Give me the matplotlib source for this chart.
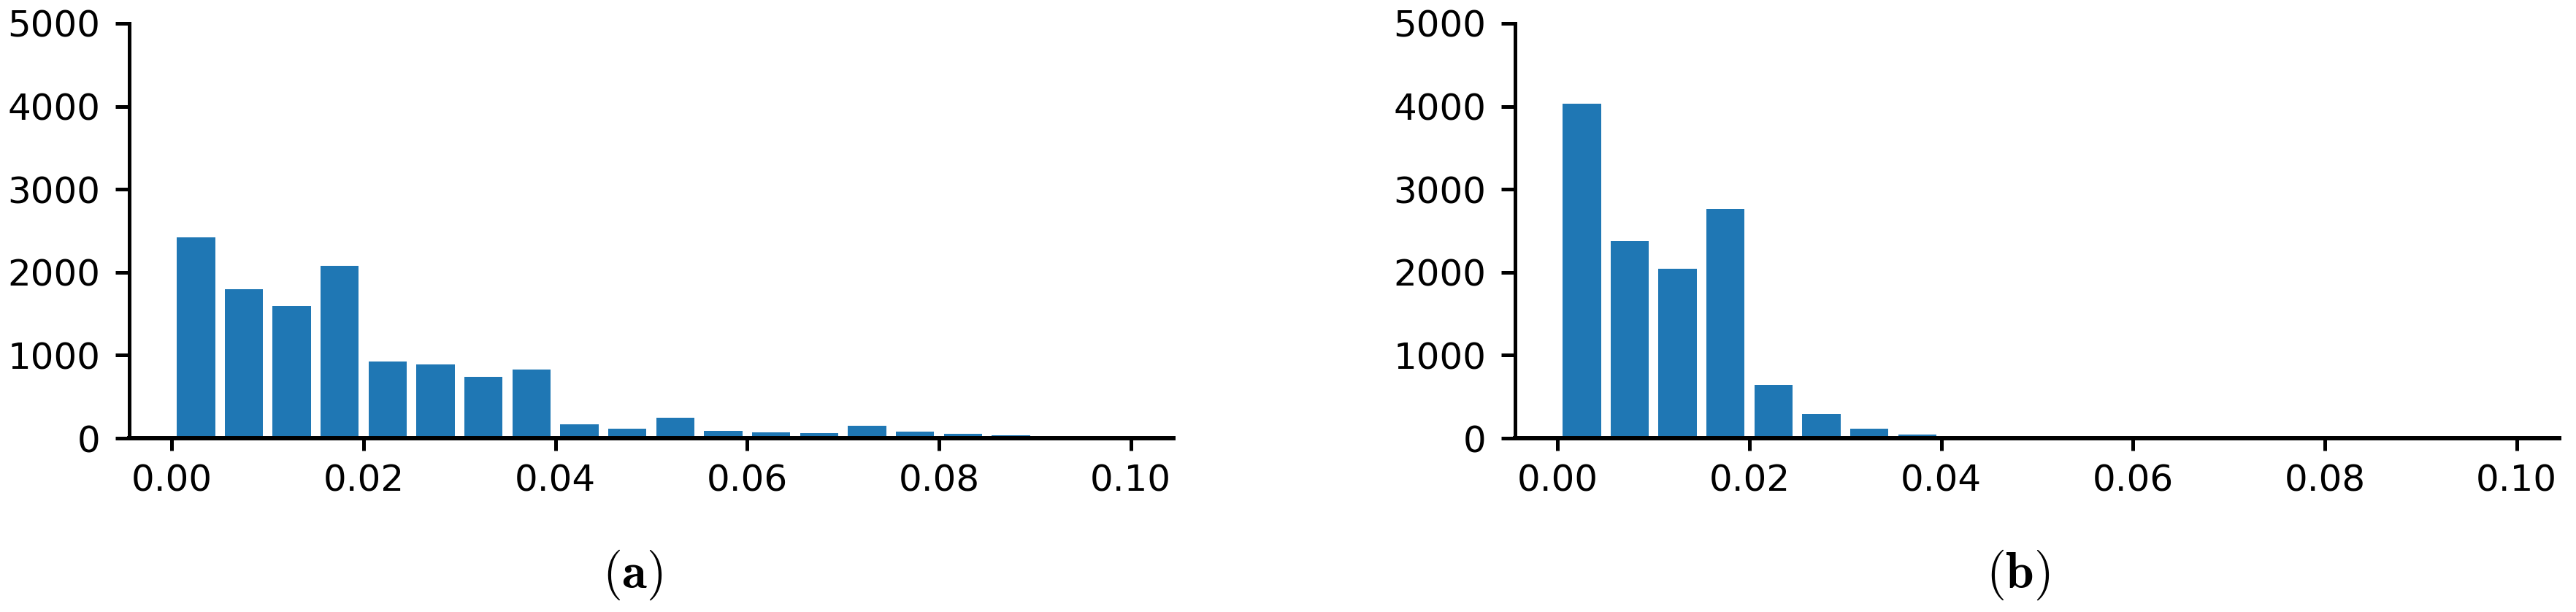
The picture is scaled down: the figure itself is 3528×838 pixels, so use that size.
import numpy as np
import matplotlib
matplotlib.use("Agg")
import matplotlib.pyplot as plt

plt.rcParams["mathtext.fontset"] = "cm"

# histogram bins: 20 bins over [0, 0.1]
bin_edges = np.linspace(0.0, 0.1, 21)

# counts
counts_a = [2424, 1797, 1594, 2079, 923, 888, 738, 826, 164, 111,
            243, 85, 67, 58, 147, 76, 49, 32, 0, 0]
counts_b = [4030, 2379, 2043, 2767, 641, 288, 111, 48, 0, 0,
            0, 0, 0, 0, 0, 0, 0, 0, 0, 0]

x_ticks = [0.00, 0.02, 0.04, 0.06, 0.08, 0.10]
y_ticks = [0, 1000, 2000, 3000, 4000, 5000]
captions = [r"$(\mathbf{a})$", r"$(\mathbf{b})$"]

W, H = 3528, 838
fig = plt.figure(figsize=(W / 100, H / 100), dpi=100)

axes_px = [(177, 1607), (2075, 3505)]
top_px, bottom_px = 32, 600
caption_x_px = [866, 2764]

centers = (bin_edges[:-1] + bin_edges[1:]) / 2

for (x0, x1), counts, cap, cx in zip(axes_px, [counts_a, counts_b], captions, caption_x_px):
    ax = fig.add_axes([x0 / W, 1 - bottom_px / H, (x1 - x0) / W, (bottom_px - top_px) / H])
    ax.hist(centers, bins=bin_edges, weights=counts, rwidth=0.8, color="#1f77b4")
    ax.set_ylim(0, 5000)
    ax.set_xticks(x_ticks)
    ax.set_xticklabels([f"{t:.2f}" for t in x_ticks])
    ax.set_yticks(y_ticks)
    for s in ("top", "right"):
        ax.spines[s].set_visible(False)
    ax.spines["left"].set_linewidth(3.6)
    ax.spines["bottom"].set_linewidth(4.3)
    ax.tick_params(axis="y", length=13.7, width=3.6, pad=15, labelsize=36)
    ax.tick_params(axis="x", length=12, width=3.6, pad=13, labelsize=36)
    fig.text(cx / W, 1 - 787 / H, cap, ha="center", va="center", fontsize=50)

fig.savefig("out.png", dpi=100)
